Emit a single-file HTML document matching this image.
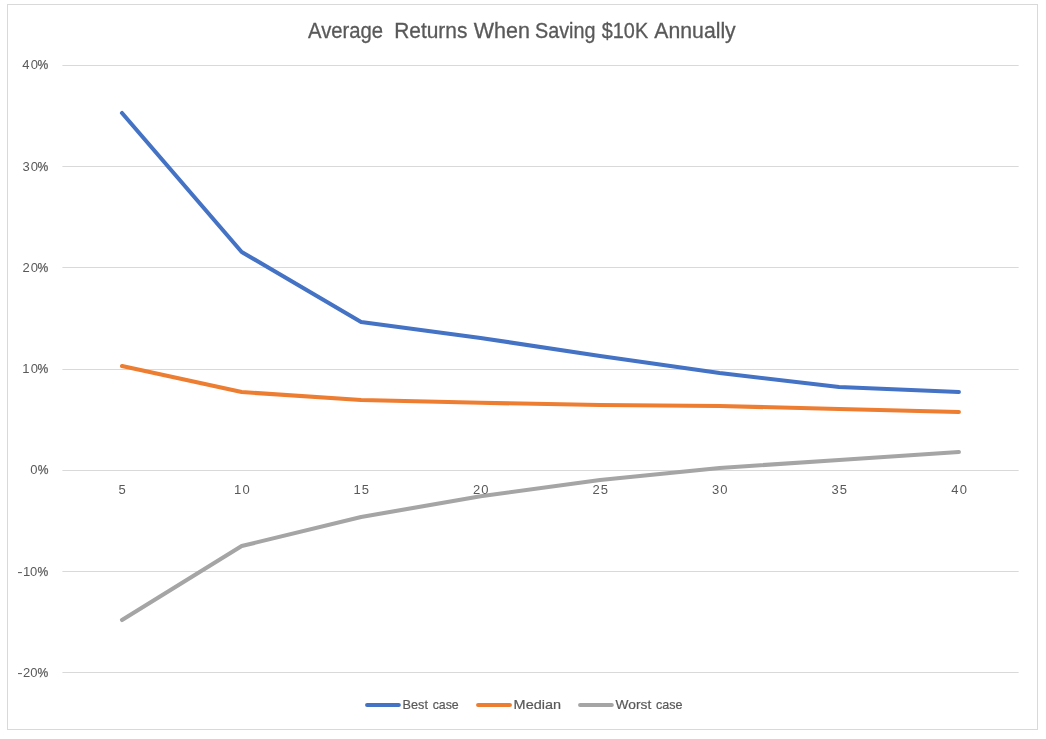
<!DOCTYPE html>
<html lang="en">
<head>
<meta charset="utf-8">
<title>Average Returns When Saving $10K Annually</title>
<style>
html,body{margin:0;padding:0;background:#fff;}
body{width:1046px;height:739px;overflow:hidden;position:relative;}
svg{position:absolute;left:0;top:0;display:block;}
text{font-family:"Liberation Sans",Arial,sans-serif;fill:#595959;}
.grid rect{fill:#d9d9d9;}
.series polyline{fill:none;stroke-width:4.1;stroke-linecap:round;stroke-linejoin:round;}
.title{font-size:21.4px;stroke:#595959;stroke-width:0.3px;}
.ax{font-size:13px;}
.xl{letter-spacing:1.1px;}
.pc{font-size:13px;stroke:#595959;stroke-width:0.25px;}
.lg{font-size:13px;stroke:#595959;stroke-width:0.2px;}
</style>
</head>
<body>
<svg width="1046" height="739" viewBox="0 0 1046 739">
<rect x="0" y="0" width="1046" height="739" fill="#ffffff"/>
<rect x="7.5" y="4.5" width="1030" height="725" fill="#ffffff" stroke="#d9d9d9" stroke-width="1" shape-rendering="crispEdges"/>
<text class="title" y="37.7"><tspan id="t1" x="307.99" textLength="75.10" lengthAdjust="spacingAndGlyphs">Average</tspan>  <tspan id="t2" x="394.16" textLength="73.22" lengthAdjust="spacingAndGlyphs">Returns</tspan> <tspan id="t3" x="473.75" textLength="56.15" lengthAdjust="spacingAndGlyphs">When</tspan> <tspan id="t4" x="534.95" textLength="60.53" lengthAdjust="spacingAndGlyphs">Saving</tspan> <tspan id="t5" x="601.78" textLength="46.38" lengthAdjust="spacingAndGlyphs">$10K</tspan> <tspan id="t6" x="654.37" textLength="81.37" lengthAdjust="spacingAndGlyphs">Annually</tspan></text>
<g class="grid">
<rect x="62.4" y="65" width="956.2" height="1"/>
<rect x="62.4" y="166" width="956.2" height="1"/>
<rect x="62.4" y="267" width="956.2" height="1"/>
<rect x="62.4" y="369" width="956.2" height="1"/>
<rect x="62.4" y="470" width="956.2" height="1"/>
<rect x="62.4" y="571" width="956.2" height="1"/>
<rect x="62.4" y="672" width="956.2" height="1"/>
</g>
<g class="ylabels">
<text class="ax" y="69"><tspan x="22.3 30.7">40</tspan><tspan class="pc" x="37.60" textLength="10.75" lengthAdjust="spacingAndGlyphs">%</tspan></text>
<text class="ax" y="171"><tspan x="22.5 30.7">30</tspan><tspan class="pc" x="37.60" textLength="10.75" lengthAdjust="spacingAndGlyphs">%</tspan></text>
<text class="ax" y="272"><tspan x="22.55 30.7">20</tspan><tspan class="pc" x="37.60" textLength="10.75" lengthAdjust="spacingAndGlyphs">%</tspan></text>
<text class="ax" y="373"><tspan x="22.2 30.7">10</tspan><tspan class="pc" x="37.60" textLength="10.75" lengthAdjust="spacingAndGlyphs">%</tspan></text>
<text class="ax" y="474"><tspan x="30.2">0</tspan><tspan class="pc" x="37.80" textLength="10.75" lengthAdjust="spacingAndGlyphs">%</tspan></text>
<text class="ax" y="576"><tspan x="17.2" textLength="5.4" lengthAdjust="spacingAndGlyphs">-</tspan><tspan x="23.1 30.05">10</tspan><tspan class="pc" x="37.60" textLength="10.75" lengthAdjust="spacingAndGlyphs">%</tspan></text>
<text class="ax" y="677"><tspan x="17.2" textLength="5.4" lengthAdjust="spacingAndGlyphs">-</tspan><tspan x="22.95 30.35">20</tspan><tspan class="pc" x="37.60" textLength="10.75" lengthAdjust="spacingAndGlyphs">%</tspan></text>
</g>
<g class="series">
<polyline stroke="#4472c4" points="122,113 241.7,252 361.1,322 480.6,338 600.1,356 719.6,373 839.1,387 958.9,392"/>
<polyline stroke="#ed7d31" points="122,366 241.7,392 361.1,400 480.6,402.8 600.1,405 719.6,406 839.1,409 958.9,412"/>
<polyline stroke="#a5a5a5" points="122,620 241.7,546 361.1,517 480.6,496.2 600.1,480 719.6,468 839.1,460 958.9,452"/>
</g>
<g class="xlabels">
<text class="ax" x="118.40" y="493.5">5</text>
<text class="ax xl" x="234.10" y="493.5">10</text>
<text class="ax xl" x="353.50" y="493.5">15</text>
<text class="ax xl" x="473.00" y="493.5">20</text>
<text class="ax xl" x="592.50" y="493.5">25</text>
<text class="ax xl" x="712.00" y="493.5">30</text>
<text class="ax xl" x="831.50" y="493.5">35</text>
<text class="ax xl" x="951.30" y="493.5">40</text>
</g>
<g class="legend">
<line x1="367.1" y1="705" x2="398.8" y2="705" stroke="#4472c4" stroke-width="4.1" stroke-linecap="round"/>
<text class="lg" y="709"><tspan id="l1" x="402.55" textLength="25.37" lengthAdjust="spacingAndGlyphs">Best</tspan> <tspan id="l2" x="432.65" textLength="26.10" lengthAdjust="spacingAndGlyphs">case</tspan></text>
<line x1="478.1" y1="705" x2="509.9" y2="705" stroke="#ed7d31" stroke-width="4.1" stroke-linecap="round"/>
<text class="lg" y="709"><tspan id="l3" x="513.64" textLength="47.35" lengthAdjust="spacingAndGlyphs">Median</tspan></text>
<line x1="580.1" y1="705" x2="611.8" y2="705" stroke="#a5a5a5" stroke-width="4.1" stroke-linecap="round"/>
<text class="lg" y="709"><tspan id="l4" x="615.62" textLength="35.65" lengthAdjust="spacingAndGlyphs">Worst</tspan> <tspan id="l5" x="656.02" textLength="26.50" lengthAdjust="spacingAndGlyphs">case</tspan></text>
</g>
</svg>
</body>
</html>
